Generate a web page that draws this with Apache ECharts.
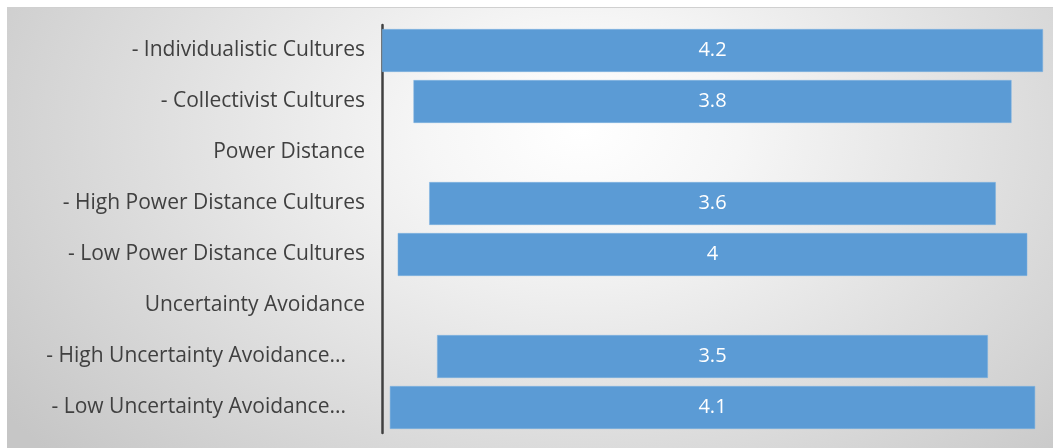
<!DOCTYPE html>
<html>
<head>
<meta charset="utf-8">
<script src="https://cdn.jsdelivr.net/npm/echarts@6/dist/echarts.min.js"></script>
<style>
  html, body { margin: 0; padding: 0; background: #fff; }
  #chart {
    position: absolute; left: 7px; top: 7px; width: 1046px; height: 441px;
    background: radial-gradient(ellipse 68% 110% at 55% 28%, #ffffff 0%, #f6f6f6 22%, #c6c6c6 100%);
    border-top: 1px solid #d0d0d0;
  }
</style>
</head>
<body>
<div id="chart"></div>
<script>
var categories = [
  '- Individualistic Cultures',
  '- Collectivist Cultures',
  'Power Distance',
  '- High Power Distance Cultures',
  '- Low Power Distance Cultures',
  'Uncertainty Avoidance',
  '- High Uncertainty Avoidance...',
  '- Low Uncertainty Avoidance...'
];
var scores = [4.2, 3.8, null, 3.6, 4, null, 3.5, 4.1];
var maxScore = 4.2;

// half of the unused width, so each bar sits centred
var padding = scores.map(function (v) { return v == null ? null : (maxScore - v) / 2; });

var myChart = echarts.init(document.getElementById('chart'));
var option = {
  backgroundColor: 'transparent',
  animation: false,
  grid: { left: 375, right: 10, top: 17, bottom: 16 },
  xAxis: {
    type: 'value', min: 0, max: maxScore,
    show: false
  },
  yAxis: {
    type: 'category',
    inverse: true,
    data: categories,
    axisLine: { show: true, lineStyle: { color: '#404040', width: 2.5 } },
    axisTick: { show: false },
    axisLabel: {
      color: '#404040', fontSize: 21, margin: 17,
      fontFamily: 'Open Sans',
      formatter: function (v) {
        // truncated labels sit a little further from the axis
        return v.slice(-3) === '...' ? '{cut|' + v + '}' : v;
      },
      rich: {
        cut: { fontSize: 21, fontFamily: 'Open Sans', color: '#404040', padding: [0, 19, 0, 0] }
      }
    }
  },
  series: [
    {
      type: 'bar', stack: 'a', data: padding,
      itemStyle: { color: 'transparent' },
      barCategoryGap: '16%', silent: true
    },
    {
      type: 'bar', stack: 'a', data: scores,
      itemStyle: { color: '#5b9bd5', borderColor: '#7fb2e0', borderWidth: 0.5 },
      label: {
        show: true, position: 'inside', color: '#ffffff',
        fontSize: 20, fontFamily: 'Open Sans'
      }
    }
  ]
};
myChart.setOption(option);
</script>
</body>
</html>
